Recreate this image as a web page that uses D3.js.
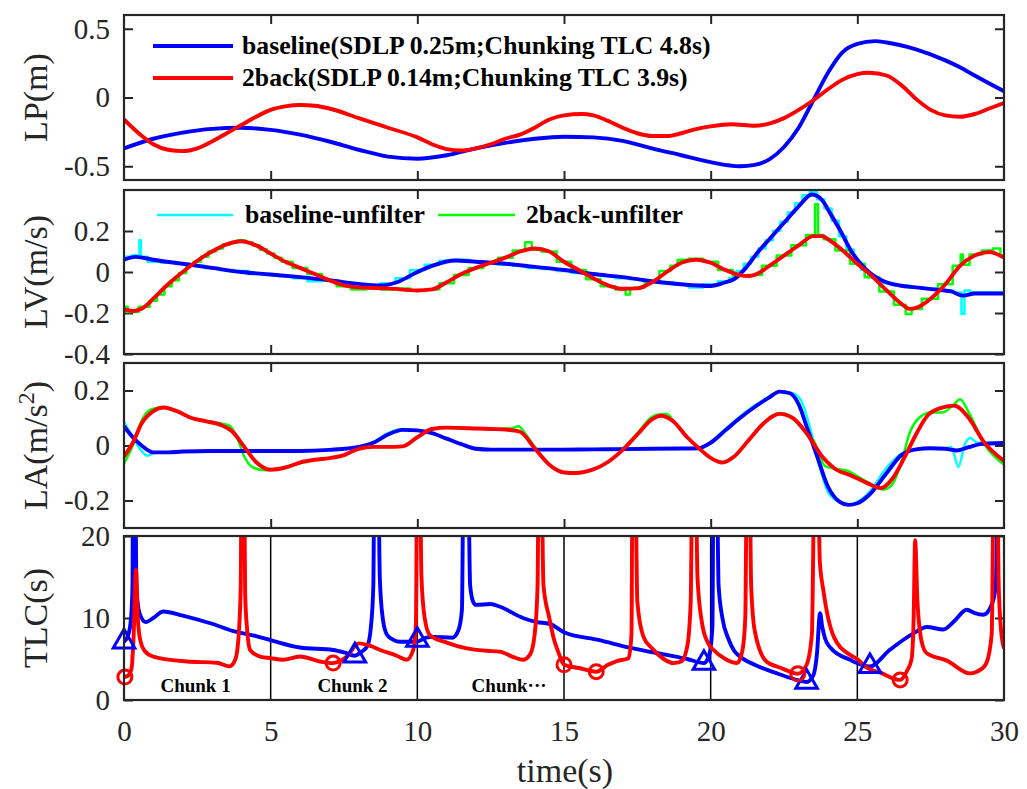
<!DOCTYPE html>
<html>
<head>
<meta charset="utf-8">
<script src="https://cdn.jsdelivr.net/npm/d3@7"></script>
<style>
body { margin: 0; background: #fff; }
svg { display: block; }
text { font-family: "Liberation Serif", "Times New Roman", serif; fill: #262626; }
</style>
</head>
<body>
<div id="chart"></div>
<script>
// ---- data: [time (s), value] ----
var lpBaseline = [[0,-0.37],[1,-0.30],[2,-0.255],[3,-0.228],[4,-0.22],[5,-0.235],[6,-0.27],[7,-0.32],[8,-0.38],[9,-0.43],[10,-0.445],[11,-0.42],[12,-0.37],[13,-0.33],[14,-0.30],[15,-0.285],[16,-0.29],[17,-0.315],[18,-0.37],[19,-0.42],[20,-0.47],[21,-0.50],[21.5,-0.49],[22,-0.45],[22.5,-0.36],[23,-0.22],[23.5,-0.02],[24,0.18],[24.5,0.33],[25,0.39],[25.6,0.41],[26,0.40],[27,0.35],[28,0.27],[28.5,0.22],[29,0.16],[30,0.045]];
var lp2back = [[0,-0.16],[0.5,-0.26],[1,-0.34],[1.5,-0.38],[2,-0.39],[2.5,-0.37],[3,-0.32],[3.5,-0.26],[4,-0.2],[4.5,-0.14],[5,-0.09],[5.5,-0.065],[6,-0.055],[6.5,-0.06],[7,-0.08],[8,-0.15],[9,-0.22],[10,-0.29],[10.5,-0.34],[11,-0.375],[11.5,-0.385],[12,-0.37],[12.5,-0.34],[13,-0.3],[13.5,-0.27],[14,-0.22],[14.5,-0.16],[15,-0.13],[15.6,-0.12],[16,-0.13],[16.5,-0.17],[17,-0.22],[17.5,-0.26],[18,-0.28],[18.5,-0.28],[19,-0.26],[19.5,-0.23],[20,-0.21],[20.7,-0.195],[21.5,-0.205],[22,-0.19],[22.5,-0.15],[23,-0.09],[23.5,-0.02],[24,0.06],[24.5,0.13],[25,0.17],[25.4,0.18],[26,0.16],[26.5,0.09],[27,-0.01],[27.5,-0.09],[28,-0.13],[28.5,-0.14],[29,-0.12],[29.5,-0.08],[30,-0.04]];

var lvBaseline = [[0,0.06],[0.4,0.074],[1,0.06],[2,0.04],[3,0.02],[4,0.0],[5,-0.012],[6,-0.025],[7,-0.04],[8,-0.058],[8.7,-0.066],[9.3,-0.05],[10,0.0],[10.5,0.03],[11.3,0.056],[12,0.05],[13,0.04],[14,0.025],[15,0.01],[16,-0.01],[17,-0.025],[18,-0.045],[19,-0.06],[20,-0.068],[20.5,-0.05],[20.8,-0.035],[21.2,0.02],[21.6,0.095],[22,0.16],[22.5,0.24],[23,0.32],[23.45,0.378],[23.8,0.35],[24.1,0.28],[24.4,0.207],[24.8,0.1],[25.3,0.012],[25.9,-0.045],[26.45,-0.066],[27,-0.075],[27.6,-0.085],[28.2,-0.095],[28.6,-0.115],[29,-0.105],[30,-0.105]];
var lv2back = [[0,-0.183],[0.3,-0.19],[0.7,-0.17],[1,-0.13],[1.5,-0.06],[2,0.0],[2.5,0.055],[3,0.1],[3.5,0.135],[4,0.15],[4.5,0.13],[5,0.09],[5.5,0.05],[6,0.02],[6.5,-0.01],[7,-0.04],[7.5,-0.065],[8,-0.075],[9,-0.08],[10,-0.09],[10.5,-0.085],[11,-0.05],[11.5,-0.01],[12,0.02],[12.5,0.045],[13,0.07],[13.5,0.1],[14,0.115],[14.5,0.1],[15,0.05],[15.5,0.01],[16,-0.03],[16.5,-0.065],[17,-0.082],[17.5,-0.08],[18,-0.05],[18.5,0.0],[19,0.045],[19.5,0.06],[20,0.045],[20.5,0.01],[21,-0.015],[21.3,-0.02],[21.7,0.0],[22,0.03],[22.5,0.08],[23,0.13],[23.5,0.175],[23.8,0.175],[24,0.16],[24.5,0.105],[25,0.04],[25.5,-0.02],[26,-0.09],[26.5,-0.155],[26.8,-0.18],[27,-0.175],[27.5,-0.13],[28,-0.06],[28.5,0.03],[29,0.08],[29.5,0.097],[30,0.07]];
var lvBaselineRaw = [[0,0.075],[0.5,0.08],[0.55,0.155],[0.6,0.075],[1,0.05],[1.5,0.045],[2,0.04],[2.5,0.03],[3,0.02],[3.5,0.01],[4,0.005],[4.5,-0.01],[5,-0.015],[5.5,-0.02],[6,-0.03],[6.5,-0.045],[7,-0.04],[7.5,-0.055],[8,-0.06],[8.5,-0.065],[9,-0.055],[9.5,-0.03],[10,0.01],[10.5,0.035],[11,0.055],[11.5,0.06],[12,0.05],[12.5,0.045],[13,0.035],[13.5,0.03],[14,0.02],[14.5,0.015],[15,0.005],[15.5,-0.005],[16,-0.015],[16.5,-0.02],[17,-0.03],[17.5,-0.035],[18,-0.045],[18.5,-0.05],[19,-0.06],[19.5,-0.075],[20,-0.06],[20.5,-0.045],[20.75,-0.03],[21,0.005],[21.25,0.04],[21.5,0.075],[21.75,0.115],[22,0.155],[22.25,0.2],[22.5,0.245],[22.75,0.29],[23,0.335],[23.25,0.375],[23.5,0.39],[23.75,0.355],[24,0.31],[24.25,0.25],[24.5,0.175],[24.75,0.11],[25,0.05],[25.25,0.01],[25.5,-0.025],[26,-0.055],[26.5,-0.065],[27,-0.075],[27.5,-0.08],[28,-0.09],[28.5,-0.1],[28.6,-0.205],[28.7,-0.09],[29,-0.1],[29.5,-0.1],[30,-0.1]];
var lv2backRaw = [[0,-0.17],[0.25,-0.195],[0.75,-0.17],[1,-0.14],[1.25,-0.11],[1.5,-0.07],[1.75,-0.04],[2,-0.005],[2.25,0.03],[2.5,0.05],[2.75,0.075],[3,0.1],[3.25,0.115],[3.5,0.135],[3.75,0.145],[4,0.155],[4.25,0.145],[4.5,0.13],[4.75,0.11],[5,0.09],[5.25,0.07],[5.5,0.05],[6,0.02],[6.5,-0.01],[7,-0.04],[7.5,-0.07],[8,-0.085],[8.5,-0.08],[9,-0.085],[9.5,-0.08],[10,-0.09],[10.5,-0.085],[11,-0.055],[11.5,-0.015],[12,0.02],[12.5,0.045],[13,0.07],[13.5,0.105],[13.85,0.145],[13.95,0.11],[14.5,0.1],[15,0.05],[15.5,0.01],[16,-0.035],[16.5,-0.07],[17,-0.085],[17.2,-0.11],[17.3,-0.08],[17.5,-0.075],[18,-0.05],[18.5,0.005],[18.75,0.03],[19,0.06],[19.5,0.065],[20,0.05],[20.5,0.01],[21,-0.02],[21.5,-0.015],[22,0.03],[22.5,0.08],[23,0.13],[23.5,0.18],[23.62,0.33],[23.7,0.18],[24,0.16],[24.5,0.105],[25,0.04],[25.5,-0.025],[26,-0.095],[26.5,-0.16],[26.8,-0.205],[26.9,-0.18],[27.5,-0.13],[28,-0.06],[28.5,0.03],[28.55,0.085],[28.65,0.035],[29,0.085],[29.5,0.105],[29.75,0.115],[30,0.08]];

var laBaseline = [[0,0.07],[0.3,0.03],[0.6,0.0],[1,-0.025],[1.5,-0.025],[2,-0.022],[3,-0.02],[4,-0.02],[5,-0.02],[6,-0.02],[7,-0.016],[8,-0.005],[8.5,0.01],[9,0.04],[9.5,0.057],[10,0.055],[10.5,0.045],[11,0.025],[11.5,0.005],[12,-0.012],[12.5,-0.015],[13,-0.015],[14,-0.015],[15,-0.015],[16,-0.014],[17,-0.013],[18,-0.012],[19,-0.011],[19.6,-0.01],[20,0.01],[20.5,0.055],[21,0.1],[21.5,0.14],[22,0.175],[22.35,0.196],[22.7,0.19],[23,0.15],[23.3,0.06],[23.6,-0.03],[24,-0.15],[24.4,-0.205],[24.7,-0.216],[25,-0.21],[25.4,-0.18],[26,-0.1],[26.5,-0.035],[27,-0.014],[27.5,-0.01],[28,-0.012],[28.4,-0.018],[28.8,-0.006],[29.2,0.005],[30,0.009]];
var la2back = [[0,-0.04],[0.3,0.01],[0.6,0.08],[1,0.125],[1.35,0.138],[1.8,0.125],[2.3,0.1],[2.8,0.088],[3.3,0.075],[3.7,0.05],[4.1,-0.005],[4.5,-0.06],[5,-0.088],[5.5,-0.08],[6,-0.062],[6.5,-0.052],[7,-0.046],[7.5,-0.035],[8,-0.012],[8.5,-0.005],[9,-0.005],[9.5,-0.003],[10,0.03],[10.5,0.06],[11,0.065],[12,0.062],[12.5,0.06],[13,0.058],[13.5,0.05],[14,-0.01],[14.5,-0.07],[15,-0.098],[15.4,-0.1],[16,-0.087],[16.5,-0.06],[17,-0.016],[17.5,0.04],[18,0.095],[18.3,0.108],[18.7,0.09],[19.2,0.03],[19.6,-0.01],[20,-0.045],[20.4,-0.062],[20.8,-0.04],[21.3,0.02],[21.8,0.08],[22.35,0.115],[22.8,0.1],[23.3,0.04],[23.8,-0.04],[24.2,-0.082],[24.8,-0.11],[25.3,-0.135],[25.8,-0.155],[26.2,-0.12],[26.6,-0.045],[27,0.04],[27.4,0.11],[27.8,0.135],[28.3,0.145],[28.8,0.1],[29.3,0.015],[30,-0.056]];
var laBaselineRaw = [[0,0.085],[0.3,0.03],[0.6,-0.02],[0.8,-0.037],[1.1,-0.025],[1.5,-0.025],[2,-0.022],[3,-0.02],[4,-0.02],[5,-0.02],[6,-0.02],[7,-0.016],[8,-0.005],[8.5,0.012],[9,0.045],[9.5,0.06],[10,0.055],[10.5,0.045],[11,0.025],[11.5,0.005],[12,-0.012],[12.5,-0.015],[13,-0.015],[14,-0.015],[15,-0.015],[16,-0.014],[17,-0.013],[18,-0.012],[19,-0.011],[19.6,-0.01],[20,0.012],[20.5,0.06],[21,0.105],[21.5,0.145],[22,0.178],[22.35,0.196],[22.8,0.19],[23.1,0.16],[23.4,0.06],[23.7,-0.07],[24,-0.17],[24.3,-0.2],[24.7,-0.215],[25,-0.205],[25.4,-0.17],[26,-0.08],[26.5,-0.03],[27,-0.014],[27.5,-0.01],[28,-0.01],[28.2,-0.005],[28.45,-0.078],[28.65,0.0],[28.85,0.027],[29.1,0.01],[29.5,0.01],[30,0.01]];
var la2backRaw = [[0,-0.065],[0.3,0.0],[0.6,0.09],[0.9,0.13],[1.3,0.138],[1.8,0.125],[2.3,0.1],[2.8,0.09],[3.3,0.08],[3.6,0.072],[3.85,0.03],[4.1,-0.04],[4.4,-0.08],[4.8,-0.09],[5.3,-0.085],[5.8,-0.07],[6.5,-0.052],[7,-0.046],[7.5,-0.035],[8,-0.012],[8.5,-0.005],[9,-0.005],[9.5,-0.003],[10,0.03],[10.5,0.06],[11,0.065],[12,0.062],[12.5,0.06],[13.2,0.062],[13.45,0.07],[13.7,0.04],[14.1,-0.02],[14.5,-0.07],[15,-0.098],[15.4,-0.1],[16,-0.087],[16.5,-0.06],[17,-0.016],[17.5,0.045],[18.1,0.11],[18.5,0.115],[18.8,0.08],[19.2,0.03],[19.6,-0.01],[20,-0.045],[20.4,-0.062],[20.8,-0.04],[21.3,0.02],[21.8,0.08],[22.35,0.118],[22.8,0.1],[23.3,0.04],[23.5,0.02],[23.9,-0.075],[24.3,-0.085],[24.6,-0.09],[25.3,-0.13],[25.9,-0.16],[26.2,-0.14],[26.5,-0.06],[26.8,0.05],[27.1,0.1],[27.5,0.12],[27.9,0.12],[28.3,0.15],[28.5,0.168],[28.8,0.12],[29.3,0.01],[30,-0.07]];

var tlcBaseline = [[0,7.1],[0.15,8],[0.24,10],[0.29,14],[0.31,30],[0.38,30],[0.42,14],[0.5,11],[0.6,10],[0.74,9.5],[1.0,10.0],[1.34,10.8],[2,10.3],[3,9.3],[3.73,8.4],[4.5,7.8],[5,7.3],[6,6.4],[7.13,6.1],[7.5,5.8],[7.87,5.4],[8.1,5.9],[8.3,6.6],[8.42,9],[8.5,14],[8.54,30],[8.66,30],[8.72,15],[8.82,10],[8.96,8.0],[9.2,7.3],[9.4,7.1],[9.98,7.1],[10.3,7.6],[10.55,7.7],[11.2,7.6],[11.4,8.5],[11.52,11],[11.58,30],[11.72,30],[11.8,14],[11.9,12],[12.0,11.6],[12.5,11.7],[12.8,11.4],[13.6,10.0],[14.07,9.5],[14.5,9.3],[14.98,8.3],[16.2,7.3],[17.35,6.3],[18.5,5.5],[19.2,5.0],[19.77,4.5],[19.95,5.5],[20.06,9],[20.1,30],[20.2,30],[20.27,14],[20.4,10],[20.6,7.5],[20.8,6.0],[21.0,5.3],[21.5,4.3],[22.3,3.2],[23.0,2.4],[23.27,2.2],[23.5,3.0],[23.62,5.5],[23.73,10.6],[23.8,9.0],[23.9,7.5],[24.1,6.3],[24.75,4.9],[25.43,4.1],[26.1,6.1],[26.9,8.1],[27.37,8.9],[27.93,8.6],[28.3,9.6],[28.73,11.0],[29.0,10.6],[29.3,10.4],[29.6,11.8],[29.72,14],[29.82,30],[30,30]];
var tlc2back = [[0,2.8],[0.15,3.0],[0.26,3.9],[0.33,8],[0.41,15.9],[0.47,10],[0.56,7.2],[0.7,6.0],[1.0,5.3],[2.14,4.7],[3.16,4.55],[3.6,4.1],[3.8,5],[3.92,8.5],[3.98,14],[4.01,30],[4.09,30],[4.13,13],[4.2,8.5],[4.3,6.1],[4.64,5.3],[5,5.1],[5.43,4.9],[6.0,5.3],[6.68,4.7],[7.1,4.5],[7.6,5.3],[8.0,6.9],[8.4,6.6],[8.73,6.1],[9.3,5.4],[9.64,4.9],[9.86,6.1],[9.95,9],[10.0,30],[10.08,30],[10.14,15],[10.25,10],[10.43,7.9],[11.0,7.0],[11.68,6.3],[12.37,6.0],[12.8,5.9],[13.3,5.2],[13.6,4.9],[13.85,5.6],[14.0,8],[14.1,14],[14.14,30],[14.22,30],[14.3,14],[14.5,10],[14.65,7.5],[14.8,5.9],[15.0,4.3],[15.5,3.9],[16.1,3.45],[16.5,4.3],[16.8,4.75],[17.2,5.1],[17.3,8],[17.34,30],[17.42,30],[17.5,12],[17.7,7.8],[18.0,6.3],[18.4,5.0],[18.73,4.5],[19.0,4.7],[19.2,6.5],[19.32,12],[19.38,30],[19.48,30],[19.55,15],[19.7,9.5],[19.9,7.0],[20.1,6.1],[20.5,5.0],[20.9,4.5],[21.08,6],[21.18,10],[21.24,30],[21.32,30],[21.38,14],[21.5,8.5],[21.9,4.7],[22.4,3.9],[22.7,3.45],[22.97,3.2],[23.27,4.3],[23.45,8],[23.55,30],[23.65,30],[23.72,17],[23.85,13.2],[24.2,7.7],[24.75,5.5],[25.0,5.0],[25.3,4.0],[25.8,3.3],[26.46,2.45],[26.7,3.6],[26.85,5],[26.92,10],[26.97,19.5],[27.05,12],[27.2,7],[27.37,5.7],[28.05,4.8],[28.84,3.25],[29.2,3.7],[29.4,4.5],[29.58,8],[29.66,30],[29.76,30],[29.82,14],[29.9,8.5],[30,6.3]];

var markBaseline = [[0,7.1],[7.87,5.4],[10,7.3],[19.77,4.5],[23.27,2.2],[25.43,4.1]];
var mark2back = [[0.03,2.8],[7.13,4.5],[15.0,4.3],[16.1,3.45],[22.97,3.2],[26.46,2.45]];

var xTicks = [0, 5, 10, 15, 20, 25, 30];
var chunkLines = [5, 10, 15, 20, 25];
var chunkLabels = [["Chunk 1", 2.44], ["Chunk 2", 7.79], ["Chunk\u00b7\u00b7\u00b7", 11.85]];

// ---- layout ----
var width = 1027, height = 789;
var x0 = 124, x1 = 1004;
var blue = "#0000ff", red = "#ff0000", cyan = "#00ffff", green = "#00ff00", axisColor = "#262626";

var panels = [
	{ top: 15, bottom: 180, domain: [-0.6, 0.6], ticks: [-0.5, 0, 0.5], label: "LP(m)" },
	{ top: 190, bottom: 354, domain: [-0.4, 0.4], ticks: [-0.4, -0.2, 0, 0.2], label: "LV(m/s)" },
	{ top: 363, bottom: 528, domain: [-0.3, 0.3], ticks: [-0.2, 0, 0.2], label: "LA" },
	{ top: 536, bottom: 700, domain: [0, 20], ticks: [0, 10, 20], label: "TLC(s)" }
];

var svg = d3.select("#chart").append("svg")
	.attr("width", width)
	.attr("height", height);

var xScale = d3.scaleLinear().domain([0, 30]).range([x0, x1]);

panels.forEach(function (p, i) {
	p.y = d3.scaleLinear().domain(p.domain).range([p.bottom, p.top]);
	svg.append("clipPath").attr("id", "clip" + i)
		.append("rect")
		.attr("x", x0).attr("y", p.top)
		.attr("width", x1 - x0).attr("height", p.bottom - p.top);
	p.g = svg.append("g");
	p.plot = svg.append("g").attr("clip-path", "url(#clip" + i + ")");
});

function drawLine(p, data, color, w, curve) {
	var line = d3.line()
		.x(function (d) { return xScale(d[0]); })
		.y(function (d) { return p.y(d[1]); })
		.curve(curve || d3.curveMonotoneX);
	p.plot.append("path")
		.datum(data)
		.attr("fill", "none")
		.attr("stroke", color)
		.attr("stroke-width", w)
		.attr("stroke-linejoin", "round")
		.attr("d", line);
}

// LP
drawLine(panels[0], lpBaseline, blue, 3.9);
drawLine(panels[0], lp2back, red, 3.9);

// LV (unfiltered drawn as centred steps under the filtered traces)
drawLine(panels[1], lvBaselineRaw, cyan, 2.5, d3.curveStep);
drawLine(panels[1], lv2backRaw, green, 2.5, d3.curveStep);
drawLine(panels[1], lvBaseline, blue, 3.9);
drawLine(panels[1], lv2back, red, 3.9);

// LA
drawLine(panels[2], laBaselineRaw, cyan, 2.5);
drawLine(panels[2], la2backRaw, green, 2.5);
drawLine(panels[2], laBaseline, blue, 3.9);
drawLine(panels[2], la2back, red, 3.9);

// TLC
var tlc = panels[3];
tlc.plot.selectAll(".chunk-line")
	.data(chunkLines)
	.enter().append("line")
	.attr("class", "chunk-line")
	.attr("x1", function (d) { return xScale(d); })
	.attr("x2", function (d) { return xScale(d); })
	.attr("y1", tlc.top)
	.attr("y2", tlc.bottom)
	.attr("stroke", "#000")
	.attr("stroke-width", 1.5);

tlc.plot.selectAll(".chunk-label")
	.data(chunkLabels)
	.enter().append("text")
	.attr("class", "chunk-label")
	.attr("x", function (d) { return xScale(d[1]); })
	.attr("y", 692)
	.attr("text-anchor", function (d, i) { return i == 2 ? "start" : "middle"; })
	.style("font-size", "19px")
	.style("font-weight", "bold")
	.style("fill", "#000")
	.text(function (d) { return d[0]; });

drawLine(tlc, tlcBaseline, blue, 3.9);
drawLine(tlc, tlc2back, red, 3.9);

svg.selectAll(".tri")
	.data(markBaseline)
	.enter().append("path")
	.attr("class", "tri")
	.attr("d", d3.symbol(d3.symbolTriangle).size(200))
	.attr("transform", function (d) { return "translate(" + xScale(d[0]) + "," + tlc.y(d[1]) + ")"; })
	.attr("fill", "none")
	.attr("stroke", blue)
	.attr("stroke-width", 3);

svg.selectAll(".circ")
	.data(mark2back)
	.enter().append("circle")
	.attr("class", "circ")
	.attr("cx", function (d) { return xScale(d[0]); })
	.attr("cy", function (d) { return tlc.y(d[1]); })
	.attr("r", 7)
	.attr("fill", "none")
	.attr("stroke", red)
	.attr("stroke-width", 3);

// axes, ticks and frames
panels.forEach(function (p, i) {
	var g = p.g;
	g.append("g")
		.attr("transform", "translate(" + x0 + ",0)")
		.call(d3.axisLeft(p.y).tickValues(p.ticks).tickSizeInner(-9).tickSizeOuter(0).tickPadding(14)
			.tickFormat(function (d) { return String(d); }));
	g.append("g")
		.attr("transform", "translate(" + x1 + ",0)")
		.call(d3.axisRight(p.y).tickValues(p.ticks).tickSizeInner(-9).tickSizeOuter(0).tickFormat(""));
	if (i < 3) {
		g.append("g")
			.attr("transform", "translate(0," + p.top + ")")
			.call(d3.axisTop(xScale).tickValues(chunkLines).tickSizeInner(-9).tickSizeOuter(0).tickFormat(""));
		g.append("g")
			.attr("transform", "translate(0," + p.bottom + ")")
			.call(d3.axisBottom(xScale).tickValues(chunkLines).tickSizeInner(-9).tickSizeOuter(0).tickFormat(""));
	} else {
		g.append("g")
			.attr("transform", "translate(0," + p.bottom + ")")
			.call(d3.axisBottom(xScale).tickValues(xTicks).tickSize(0).tickPadding(20)
				.tickFormat(function (d) { return String(d); }));
	}
	g.selectAll(".domain").remove();
	g.selectAll(".tick line").attr("stroke", axisColor).attr("stroke-width", 2);
	g.selectAll(".tick text").style("font-size", "29px").style("fill", axisColor)
		.style("font-family", "'Liberation Serif', serif");

	svg.append("rect")
		.attr("x", x0).attr("y", p.top)
		.attr("width", x1 - x0).attr("height", p.bottom - p.top)
		.attr("fill", "none")
		.attr("stroke", axisColor)
		.attr("stroke-width", 2.2);

	var lab = svg.append("text")
		.attr("transform", "translate(47," + (p.top + p.bottom) / 2 + ") rotate(-90)")
		.attr("text-anchor", "middle")
		.style("font-size", "34px");
	if (p.label == "LA") {
		lab.append("tspan").text("LA(m/s");
		lab.append("tspan").attr("dy", -13).style("font-size", "24px").text("2");
		lab.append("tspan").attr("dy", 13).text(")");
	} else {
		lab.text(p.label);
	}
});

svg.append("text")
	.attr("x", 565)
	.attr("y", 782)
	.attr("text-anchor", "middle")
	.style("font-size", "34px")
	.text("time(s)");

// legends
function legendItem(xl, xr, y, color, w, label, tx) {
	svg.append("line")
		.attr("x1", xl).attr("x2", xr)
		.attr("y1", y).attr("y2", y)
		.attr("stroke", color).attr("stroke-width", w);
	svg.append("text")
		.attr("x", tx).attr("y", y + 8)
		.style("font-size", "25.7px")
		.style("font-weight", "bold")
		.style("fill", "#000")
		.text(label);
}
legendItem(153, 233, 46, blue, 4, "baseline(SDLP 0.25m;Chunking TLC 4.8s)", 242);
legendItem(153, 233, 78, red, 4, "2back(SDLP 0.14m;Chunking TLC 3.9s)", 242);
legendItem(157, 233, 215, cyan, 2.5, "baseline-unfilter", 245);
legendItem(438, 515, 215, green, 2.5, "2back-unfilter", 526);
</script>
</body>
</html>
